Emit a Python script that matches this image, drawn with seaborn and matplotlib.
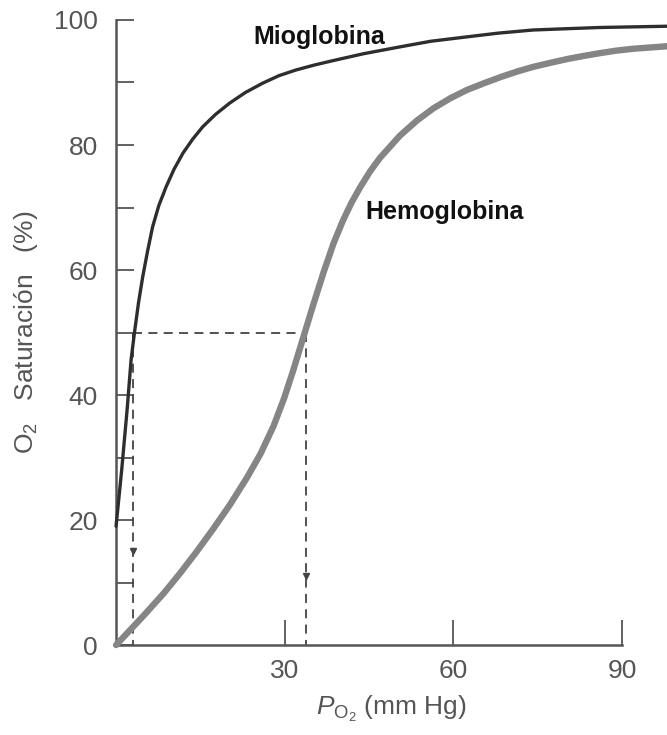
import numpy as np
import pandas as pd
import seaborn as sns
import matplotlib.pyplot as plt

# values (P_O2 in mm Hg, saturation in %)
mio_po2 = [0, 1.0, 2.0, 2.67, 3.26, 4.0, 4.74, 5.6, 6.5, 7.6, 8.9, 10.3, 11.9, 13.6, 15.4,
           17.7, 20.2, 23.0, 26.1, 29.0, 32.0, 35.3, 38.6, 44.0, 50.5, 56.0, 62.4, 68.0,
           74.2, 80.0, 86.0, 92.0, 98.0]
mio_sat = [19, 28, 38, 45.6, 49.9, 54.8, 58.9, 63.0, 66.9, 70.3, 73.3, 76.1, 78.7, 80.9, 82.9,
           84.9, 86.7, 88.4, 89.9, 91.1, 92.0, 92.8, 93.5, 94.6, 95.7, 96.6, 97.3, 97.9,
           98.4, 98.6, 98.8, 98.9, 99.0]

hb_po2 = [0, 5.0, 8.5, 11.4, 14.3, 17.3, 20.3, 23.3, 25.7, 28.0, 29.9, 31.5, 33.3, 35.1, 36.9,
          38.7, 40.4, 41.9, 43.4, 45.2, 47.0, 50.5, 53.5, 56.5, 59.5, 62.4, 65.5, 68.5,
          71.5, 74.2, 77.5, 80.5, 83.5, 86.1, 89.0, 92.0, 95.0, 98.0]
hb_sat = [0, 4.8, 8.3, 11.5, 14.9, 18.6, 22.5, 26.8, 30.6, 35.0, 39.5, 43.9, 49.2, 54.5, 59.6,
          64.3, 68.0, 70.8, 73.2, 75.8, 78.0, 81.5, 83.9, 85.9, 87.5, 88.8, 89.9, 90.9,
          91.8, 92.5, 93.2, 93.8, 94.3, 94.7, 95.1, 95.4, 95.6, 95.8]

# half saturation points (dashed guides) and arrow heads
p50_mio = 3.0
p50_hb = 33.8
arrow_x = [3.0, 33.8]
arrow_y = [15.0, 11.0]

x_ticks = [30, 60, 90]
y_ticks = [0, 10, 20, 30, 40, 50, 60, 70, 80, 90, 100]
y_labels = ['0', '', '20', '', '40', '', '60', '', '80', '', '100']

sns.set_style('ticks')
plt.rcParams['font.family'] = ['Liberation Sans', 'DejaVu Sans']
plt.rcParams['mathtext.fontset'] = 'custom'
plt.rcParams['mathtext.rm'] = 'Liberation Sans'
plt.rcParams['mathtext.it'] = 'Liberation Sans:italic'

fig = plt.figure(figsize=(6.67, 7.35), dpi=100)
ax = fig.add_axes([0.174, 0.1224, 0.826, 0.8504])

mio = pd.DataFrame({'po2': mio_po2, 'sat': mio_sat})
hb = pd.DataFrame({'po2': hb_po2, 'sat': hb_sat})

sns.lineplot(data=hb, x='po2', y='sat', ax=ax, color='#858585', lw=4.6,
             solid_capstyle='round', solid_joinstyle='round', clip_on=False, zorder=3)
sns.lineplot(data=mio, x='po2', y='sat', ax=ax, color='#2e2e2e', lw=2.4,
             solid_joinstyle='round', clip_on=False, zorder=4)

dash_color = '#444444'
ax.plot([p50_mio, p50_hb], [50, 50], ls=(0, (5, 3.5)), color=dash_color, lw=1.3, zorder=2)
ax.plot([p50_mio, p50_mio], [50, 0], ls=(0, (5, 3.5)), color=dash_color, lw=1.3, zorder=2)
ax.plot([p50_hb, p50_hb], [50, 0], ls=(0, (5, 3.5)), color=dash_color, lw=1.3, zorder=2)
ax.plot(arrow_x, arrow_y, 'v', color=dash_color, ms=5, zorder=2)

ax.text(24.4, 97.3, 'Mioglobina', fontsize=18, fontweight='bold', color='#111111',
        va='center', ha='left')
ax.text(44.3, 69.3, 'Hemoglobina', fontsize=18, fontweight='bold', color='#111111',
        va='center', ha='left')

ax.set_xlim(0, 98)
ax.set_ylim(0, 100)
sns.despine(ax=ax)
axis_color = '#555555'
for side in ['left', 'bottom']:
    ax.spines[side].set_color(axis_color)
    ax.spines[side].set_linewidth(1.8)
ax.spines['bottom'].set_bounds(0, 90)
ax.spines['left'].set_bounds(0, 100)

ax.set_xticks(x_ticks)
ax.set_yticks(y_ticks)
ax.set_yticklabels(y_labels)
ax.tick_params(axis='y', direction='in', length=13, width=1.3, color=axis_color,
               labelsize=19, labelcolor='#555555', pad=13)
ax.tick_params(axis='x', direction='in', length=18, width=1.3, color=axis_color,
               labelsize=19, labelcolor='#555555', pad=10)

ax.set_xlabel(r'$P_{\mathrm{O_2}}$ (mm Hg)', fontsize=19, color='#555555', labelpad=8)
ax.set_ylabel(r'O$_2$   Saturación   (%)', fontsize=19, color='#555555', labelpad=10)

fig.savefig('out.png', dpi=100)
